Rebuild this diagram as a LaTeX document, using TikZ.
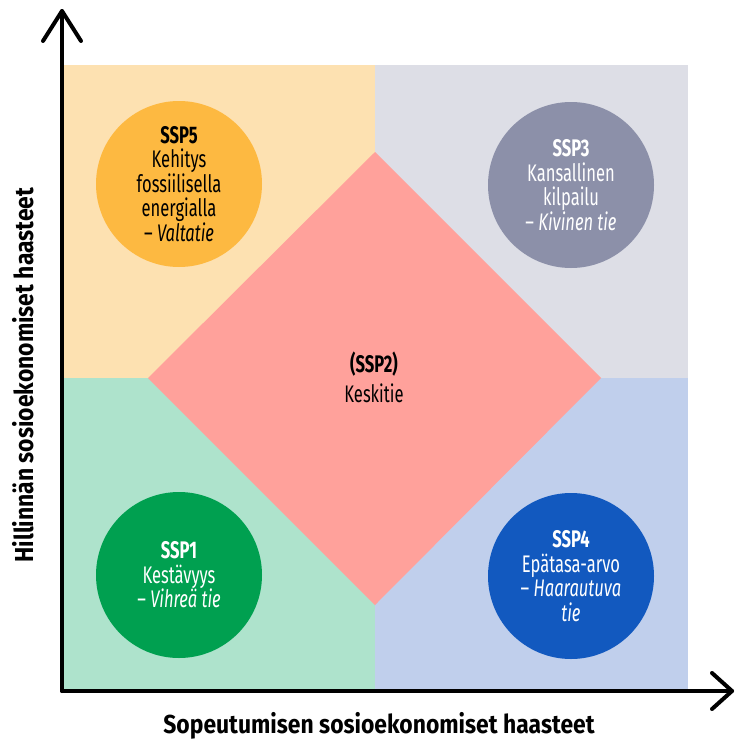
\documentclass[tikz,border=0pt]{standalone}
\usepackage{fontspec}
\setmainfont{Fira Sans}[FakeStretch=0.69]
\newfontfamily\labelfont{Fira Sans}[FakeStretch=0.88]
\definecolor{qTL}{HTML}{FDE1B1}
\definecolor{qTR}{HTML}{DDDEE6}
\definecolor{qBL}{HTML}{AEE3CC}
\definecolor{qBR}{HTML}{C0CFEC}
\definecolor{diam}{HTML}{FFA19B}
\definecolor{cFive}{HTML}{FDB941}
\definecolor{cThree}{HTML}{8C90A9}
\definecolor{cOne}{HTML}{00A050}
\definecolor{cFour}{HTML}{1259BF}
\tikzset{
  ssp/.style={circle, minimum size=166pt, inner sep=0pt, align=center,
    font=\fontsize{24}{24.5}\selectfont},
  axisline/.style={line width=4pt, line cap=round, line join=round},
  axislabel/.style={font=\labelfont\bfseries\fontsize{26}{30}\selectfont}
}
\begin{document}
\begin{tikzpicture}[x=1pt,y=-1pt]
\useasboundingbox (0,0) rectangle (734,744);
% quadrants
\fill[qTL] (63,65) rectangle (375,378);
\fill[qTR] (375,65) rectangle (688,378);
\fill[qBL] (63,378) rectangle (375,690);
\fill[qBR] (375,378) rectangle (688,690);
% diamond
\fill[diam] (375,152) -- (601,378) -- (375,605) -- (148,378) -- cycle;
\node[align=center, font=\fontsize{24}{30}\selectfont] (ssp2) at (374,377)
  {\textbf{(SSP2)}\\Keskitie};
% circles
\node[ssp, fill=cFive, text=black] (ssp5) at (179,184)
  {\textbf{SSP5}\\Kehitys\\fossiilisella\\energialla\\– \textit{Valtatie}};
\node[ssp, fill=cThree, text=white] (ssp3) at (571,185)
  {\textbf{SSP3}\\Kansallinen\\kilpailu\\– \textit{Kivinen tie}};
\node[ssp, fill=cOne, text=white] (ssp1) at (179,575)
  {\textbf{SSP1}\\Kestävyys\\– \textit{Vihreä tie}};
\node[ssp, fill=cFour, text=white] (ssp4) at (571,576)
  {\textbf{SSP4}\\Epätasa-arvo\\– \textit{Haarautuva}\\\textit{tie}};
% axes
\coordinate (origin) at (62,691);
\coordinate (ytip) at (62,11);
\coordinate (xtip) at (732,691);
\draw[axisline] (origin) -- (ytip);
\draw[axisline] (origin) -- (xtip);
\draw[axisline] (ytip) ++(-19,30) -- (ytip) -- ++(19,30);
\draw[axisline] (xtip) ++(-20,-18) -- (xtip) -- ++(-20,18);
% labels
\node[axislabel] (xlabel) at (379,726) {Sopeutumisen sosioekonomiset haasteet};
\node[axislabel, rotate=90] (ylabel) at (23,375) {Hillinnän sosioekonomiset haasteet};
\end{tikzpicture}
\end{document}
